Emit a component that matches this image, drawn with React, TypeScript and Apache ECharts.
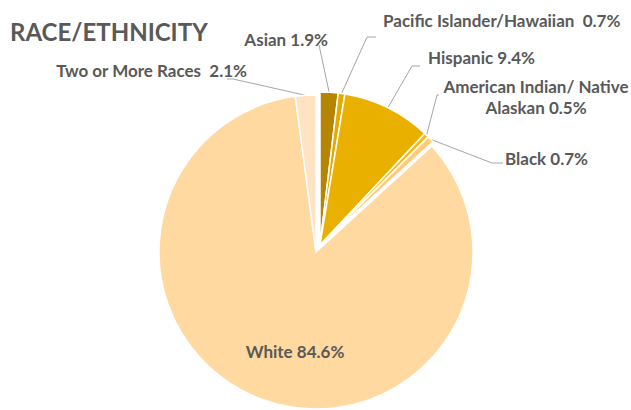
import React, { useEffect, useRef } from "react";
import * as echarts from "echarts";

const categories = [
  "Asian",
  "Pacific Islander/Hawaiian",
  "Hispanic",
  "American Indian/ Native Alaskan",
  "Black",
  "White",
  "Two or More Races",
];
const values = [1.9, 0.7, 9.4, 0.5, 0.7, 84.6, 2.1];
const colors = ["#B58400", "#E4AA00", "#E9B000", "#F8B91E", "#FFCA78", "#FFD99F", "#FFE3C2"];
// slices drawn with the larger, lower pie (White group) vs the upper pie
const lowerGroup = ["White", "Two or More Races"];
const titleText = "RACE/ETHNICITY";

// label placement (layout only)
const labelPos: any[] = [
  { x: 328, y: 39, align: "right", line: [[319, 45]] },
  { x: 383, y: 20, align: "left", line: [[367, 37], [376, 37]] },
  { x: 428, y: 57, align: "left", line: [[412, 66], [420, 66]] },
  { x: 536, y: 97, align: "center", line: [[437, 95], [439, 95]] },
  { x: 505, y: 158, align: "left", line: [[492, 163], [503, 163]] },
  { x: 295, y: 351, align: "center", line: null },
  { x: 247, y: 70, align: "right", line: [[233, 79], [227, 79]] },
];

function labelText(name: string, v: number) {
  if (name.indexOf("American Indian") === 0) return "American Indian/ Native\nAlaskan " + v + "%";
  if (name === "Two or More Races" || name === "Pacific Islander/Hawaiian") return name + "  " + v + "%";
  return name + " " + v + "%";
}

function makeSeries(inLower: boolean, center: number[], radius: number) {
  return {
    type: "pie",
    center,
    radius,
    startAngle: 90,
    clockwise: true,
    silent: true,
    avoidLabelOverlap: false,
    emphasis: { disabled: true },
    label: {
      show: true,
      position: "outside",
      fontFamily: "Lato",
      fontWeight: "bold",
      fontSize: 17,
      lineHeight: 21,
      color: "#595959",
      formatter: (p: any) => labelText(p.name, p.value),
    },
    labelLine: { show: true, length: 10, length2: 10, lineStyle: { color: "#A6A6A6", width: 1 } },
    labelLayout: (params: any) => {
      const pos = labelPos[params.dataIndex];
      const res: any = { x: pos.x, y: pos.y, align: pos.align, verticalAlign: "middle" };
      if (pos.line && params.labelLinePoints) {
        res.labelLinePoints = [params.labelLinePoints[0], ...pos.line];
      }
      return res;
    },
    data: categories.map((c, i) => {
      const visible = lowerGroup.includes(c) === inLower;
      const isWhite = c === "White";
      return {
        name: c,
        value: values[i],
        itemStyle: visible
          ? { color: colors[i], borderColor: "#ffffff", borderWidth: 1.5 }
          : { color: "rgba(0,0,0,0)", borderWidth: 0 },
        label: visible ? (isWhite ? { show: true, position: "inside" } : { show: true }) : { show: false },
        labelLine: { show: visible && !isWhite },
      };
    }),
  };
}

export default function App() {
  const ref = useRef<HTMLDivElement>(null);
  useEffect(() => {
    const chart = echarts.init(ref.current!, null, { renderer: "svg" });
    chart.setOption({
      animation: false,
      backgroundColor: "#ffffff",
      tooltip: { show: false },
      title: {
        text: titleText,
        left: 5,
        top: 14,
        textStyle: { fontFamily: "Lato", fontWeight: "bold", fontSize: 24, color: "#595959" },
      },
      series: [makeSeries(true, [316, 252], 157), makeSeries(false, [320, 245], 153)],
    });
    return () => chart.dispose();
  }, []);
  return (
    <div style={{ position: "fixed", left: 0, top: 0, width: 631, height: 410, overflow: "hidden" }}>
      <div ref={ref} style={{ width: 631, height: 410 }} />
    </div>
  );
}
